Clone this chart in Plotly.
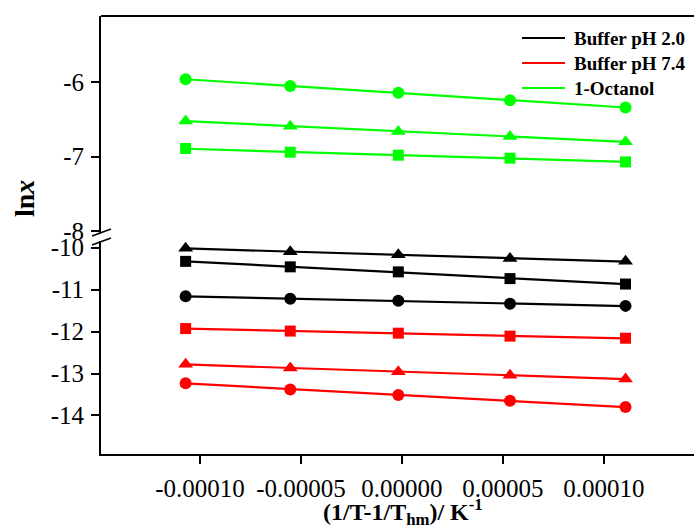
import numpy as np
import plotly.graph_objects as go

# x: 1/T - 1/Thm (K^-1)
x_vals = [-1.071e-4, -5.53e-5, -1.8e-6, 5.35e-5, 1.107e-4]

# 1-Octanol (upper panel)
oct_circle = [-5.96, -6.05, -6.14, -6.24, -6.34]
oct_triangle = [-6.52, -6.59, -6.66, -6.73, -6.80]
oct_square = [-6.89, -6.94, -6.98, -7.02, -7.07]

# Buffer pH 2.0 (lower panel)
ph2_triangle = [-10.02, -10.10, -10.17, -10.26, -10.33]
ph2_square = [-10.33, -10.46, -10.58, -10.74, -10.87]
ph2_circle = [-11.16, -11.22, -11.27, -11.34, -11.39]

# Buffer pH 7.4 (lower panel)
ph74_square = [-11.93, -11.99, -12.04, -12.11, -12.16]
ph74_triangle = [-12.78, -12.87, -12.96, -13.04, -13.13]
ph74_circle = [-13.23, -13.38, -13.51, -13.65, -13.80]

x_ticks = [-1e-4, -5e-5, 0, 5e-5, 1e-4]
x_ticktext = ["-0.00010", "-0.00005", "0.00000", "0.00005", "0.00010"]
y_upper_ticks = [-8, -7, -6]
y_upper_text = ["-8", "-7", "-6"]
y_lower_ticks = [-14, -13, -12, -11, -10]
y_lower_text = ["-14", "-13", "-12", "-11", "-10"]
legend_names = ["Buffer pH 2.0", "Buffer pH 7.4", "1-Octanol"]

BLACK, RED, GREEN = "#000000", "#ff0000", "#00ff00"
legend_colors = [BLACK, RED, GREEN]
FONT = "Liberation Serif"

series = [
    ("1-Octanol", GREEN, "circle", oct_circle, "upper"),
    ("1-Octanol", GREEN, "triangle-up", oct_triangle, "upper"),
    ("1-Octanol", GREEN, "square", oct_square, "upper"),
    ("Buffer pH 2.0", BLACK, "triangle-up", ph2_triangle, "lower"),
    ("Buffer pH 2.0", BLACK, "square", ph2_square, "lower"),
    ("Buffer pH 2.0", BLACK, "circle", ph2_circle, "lower"),
    ("Buffer pH 7.4", RED, "square", ph74_square, "lower"),
    ("Buffer pH 7.4", RED, "triangle-up", ph74_triangle, "lower"),
    ("Buffer pH 7.4", RED, "circle", ph74_circle, "lower"),
]

fig = go.Figure()
xs = np.array(x_vals)
for name, color, sym, ys, panel in series:
    xa, ya = ("x2", "y2") if panel == "upper" else ("x", "y")
    k, b = np.polyfit(xs, np.array(ys), 1)
    fig.add_trace(go.Scatter(x=[xs[0], xs[-1]], y=[k * xs[0] + b, k * xs[-1] + b],
                             mode="lines", line=dict(color=color, width=2.2),
                             showlegend=False, xaxis=xa, yaxis=ya, hoverinfo="skip"))
    msize = 12 if sym == "circle" else (13 if sym == "triangle-up" else 11)
    fig.add_trace(go.Scatter(x=x_vals, y=ys, mode="markers",
                             marker=dict(symbol=sym, color=color, size=msize, line=dict(width=0)),
                             name=name, showlegend=False, xaxis=xa, yaxis=ya))

W, H = 694, 527
L, T, B = 101, 16, 73
pw, ph = W - L, H - T - B
def py(p):  # pixel y -> paper fraction
    return (H - B - p) / ph
def px(p):
    return (p - L) / pw

xr = [-1.490e-4, 1.446e-4]
axis_common = dict(showline=True, linecolor="black", linewidth=1.8, ticks="outside",
                   ticklen=8, tickwidth=1.8, tickcolor="black", showgrid=False, zeroline=False,
                   tickfont=dict(family=FONT, size=25, color="black"))

fig.update_layout(
    width=W, height=H,
    margin=dict(l=L, r=0, t=T, b=B),
    paper_bgcolor="white", plot_bgcolor="white",
    xaxis=dict(range=xr, tickvals=x_ticks, ticktext=x_ticktext, anchor="y", domain=[0, 1],
               ticklabelstandoff=3, **axis_common),
    xaxis2=dict(range=xr, matches="x", anchor="y2", visible=False, domain=[0, 1]),
    yaxis=dict(range=[-14.917, -9.845], domain=[0, py(241)], tickvals=y_lower_ticks,
               ticktext=y_lower_text, anchor="x", ticklabelstandoff=2, **axis_common),
    yaxis2=dict(range=[-8.026, -5.109], domain=[py(233), 1], tickvals=y_upper_ticks,
                ticktext=y_upper_text, anchor="x2", ticklabelstandoff=2, **axis_common),
    showlegend=False,
)

# top border (frame)
fig.add_shape(type="line", xref="paper", yref="paper", x0=0, x1=1, y0=1, y1=1,
              line=dict(color="black", width=1.8))
# axis break marks
for y0p, y1p in [(236, 229), (245, 238)]:
    fig.add_shape(type="line", xref="paper", yref="paper",
                  x0=px(92), x1=px(111), y0=py(y0p), y1=py(y1p),
                  line=dict(color="black", width=1.6))

# legend (lines + bold labels)
for i, (name, color) in enumerate(zip(legend_names, legend_colors)):
    yrow = 38 + 25 * i
    fig.add_shape(type="line", xref="paper", yref="paper", x0=px(522), x1=px(565),
                  y0=py(yrow), y1=py(yrow), line=dict(color=color, width=2.2))
    fig.add_annotation(text=name, xref="paper", yref="paper", x=px(572), y=py(yrow),
                       xanchor="left", yanchor="middle", showarrow=False,
                       font=dict(family=FONT, size=19, color="black", weight="bold"))

# axis titles
fig.add_annotation(text="ln<i>x</i>", xref="paper", yref="paper", x=px(24), y=py(199),
                   xanchor="center", yanchor="middle", textangle=-90, showarrow=False,
                   font=dict(family=FONT, size=28, color="black", weight="bold"))
fig.add_annotation(text="(1/T-1/T<sub>hm</sub>)/ K<sup>-1</sup>", xref="paper", yref="paper",
                   x=px(403), y=py(512), xanchor="center", yanchor="middle", showarrow=False,
                   font=dict(family=FONT, size=24, color="black", weight="bold"))

fig.write_html("out.html")
